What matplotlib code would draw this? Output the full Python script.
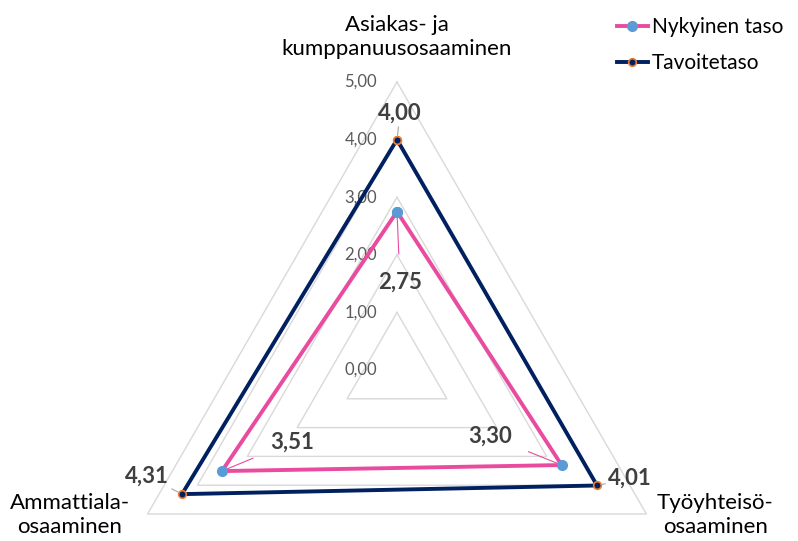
import numpy as np
import matplotlib.pyplot as plt

plt.rcParams['font.family'] = ['Lato', 'DejaVu Sans']

categories = ['Asiakas- ja\nkumppanuusosaaminen', 'Työyhteisö-\nosaaminen', 'Ammattiala-\nosaaminen']
nykyinen = [2.75, 3.30, 3.51]
tavoite = [4.00, 4.01, 4.31]
ticks = [0, 1, 2, 3, 4, 5]
tick_labels = ['0,00', '1,00', '2,00', '3,00', '4,00', '5,00']

pink = '#E94B9F'
navy = '#002060'
grid_c = '#D9D9D9'

W, H = 798, 541
fig = plt.figure(figsize=(W / 100, H / 100), dpi=100)
cx, cy, R = 397, 370, 288
ax = fig.add_axes([(cx - R) / W, (H - cy - R) / H, 2 * R / W, 2 * R / H], projection='polar')
ax.set_theta_offset(np.pi / 2)
ax.set_theta_direction(-1)
ax.set_ylim(0, 5)
ax.axis('off')

theta = np.linspace(0, 2 * np.pi, len(categories), endpoint=False)
tc = np.append(theta, theta[0])

# triangular grid
for t in ticks[1:]:
    ax.plot(tc, [t] * len(tc), color=grid_c, lw=1.0, zorder=1, clip_on=False)
for t, lab in zip(ticks, tick_labels):
    ax.annotate(lab, xy=(0, t), xytext=(-20, 0), textcoords='offset pixels',
                ha='right', va='center', fontsize=12, color='#595959')

n = np.append(nykyinen, nykyinen[0])
v = np.append(tavoite, tavoite[0])
ax.plot(tc, v, color=navy, lw=2.8, marker='o', ms=5.5, mfc=navy, mec='#ED7D31', mew=1.2,
        label='Tavoitetaso', zorder=3, clip_on=False)
ax.plot(tc, n, color=pink, lw=2.8, marker='o', ms=7, mfc='#5B9BD5', mec='#5B9BD5',
        label='Nykyinen taso', zorder=4, clip_on=False)

# category labels
cat_off = [(0, 45), (69, -1), (-78, -1)]
for th, lab, off in zip(theta, categories, cat_off):
    ax.annotate(lab, xy=(th, 5), xytext=off, textcoords='offset pixels',
                ha='center', va='center', fontsize=16, color='#000000',
                linespacing=1.2, annotation_clip=False)

# data labels
lab_c = '#404040'
n_off = [(3, -71), (-72, 29), (70, 29)]
for th, val, off in zip(theta, nykyinen, n_off):
    ax.annotate(f'{val:.2f}'.replace('.', ','), xy=(th, val), xytext=off,
                textcoords='offset pixels', ha='center', va='center',
                fontsize=16, fontweight='bold', color=lab_c,
                arrowprops=dict(arrowstyle='-', color=pink, lw=0.8, shrinkA=11, shrinkB=3))
v_off = [(3, 26), (33, 7), (-35, 18)]
for th, val, off in zip(theta, tavoite, v_off):
    ax.annotate(f'{val:.2f}'.replace('.', ','), xy=(th, val), xytext=off,
                textcoords='offset pixels', ha='center', va='center',
                fontsize=16, fontweight='bold', color=lab_c,
                arrowprops=dict(arrowstyle='-', color='#A6A6A6', lw=0.8, shrinkA=13, shrinkB=3))

h, l = ax.get_legend_handles_labels()
fig.legend(h[::-1], l[::-1], loc='upper right', bbox_to_anchor=(1.0, 0.995), frameon=False,
           fontsize=15, handlelength=1.5, handletextpad=0.2, labelspacing=0.75,
           borderaxespad=0.3)

fig.savefig('out.png', dpi=100)
